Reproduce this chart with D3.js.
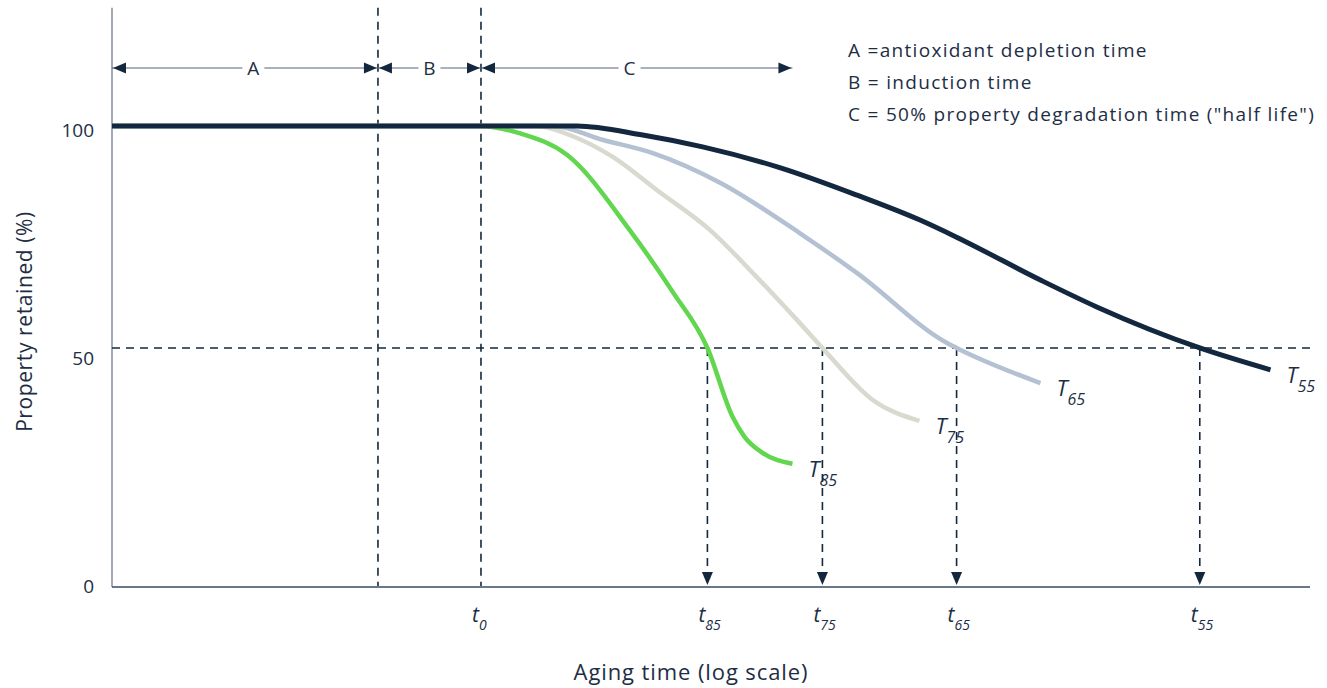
<!DOCTYPE html>
<html>
<head>
<meta charset="utf-8">
<script src="https://cdn.jsdelivr.net/npm/d3@7"></script>
<style>
  body { margin: 0; background: #fff; }
  svg { display: block; }
  text { font-family: "Open Sans", sans-serif; fill: #1d2e44; }
</style>
</head>
<body>
<div id="chart"></div>
<script>
// aging time is in log units (0..10), property in %
const yTicks = [0, 50, 100]
const halfLife = 52.2

const t55X = [0, 3.88, 4.43, 4.93, 5.58, 6.22, 6.74, 7.05, 7.75, 8.22, 9.08, 9.67]
const t55Y = [100.9, 100.9, 98.9, 96.3, 91.7, 85.7, 80.3, 76.5, 67.1, 61.2, 52.2, 47.4]

const t65X = [0, 3.68, 4.10, 4.52, 5.08, 5.74, 6.22, 6.97, 7.05, 7.75]
const t65Y = [100.9, 100.9, 97.8, 94.9, 88.4, 77.4, 68.6, 53.3, 52.2, 44.5]

const t75X = [0, 3.55, 3.82, 4.18, 4.55, 4.99, 5.38, 5.74, 5.93, 6.35, 6.74]
const t75Y = [100.9, 100.9, 98.9, 94.1, 86.8, 78.1, 67.8, 57.7, 52.2, 40.8, 36.2]

const t85X = [0, 3.07, 3.40, 3.80, 4.32, 4.68, 4.97, 5.18, 5.28, 5.43, 5.68]
const t85Y = [100.9, 100.9, 99.3, 94.5, 78.1, 64.5, 52.2, 37.1, 32.7, 29.2, 26.8]

const seriesTemps = ["85", "75", "65", "55"]
const seriesX = [t85X, t75X, t65X, t55X]
const seriesY = [t85Y, t75Y, t65Y, t55Y]
const seriesColors = ["#62d64f", "#d9d9cf", "#b3c1d3", "#13283f"]

const phaseBounds = [0, 2.22, 3.08, 5.68]
const phaseLabels = ["A", "B", "C"]
const phaseLabelAt = [1.18, 2.65, 4.32]
const t0 = 3.08
const dropTimes = [4.97, 5.93, 7.05, 9.08]

const legendLines = [
    "A =antioxidant depletion time",
    "B = induction time",
    "C = 50% property degradation time (\"half life\")"
]

const width = 1327
const height = 688
const dark = "#13283f"

const x = d3.scaleLinear().domain([0, 10]).range([112, 1310])
const y = d3.scaleLinear().domain([0, 100]).range([586, 130])

const svg = d3.select("#chart").append("svg")
    .attr("width", width)
    .attr("height", height)

// axes
svg.append("line")
    .attr("x1", x(0)).attr("x2", x(0))
    .attr("y1", y(126.8)).attr("y2", y(0) + 1)
    .attr("stroke", "#8290a0").attr("stroke-width", 1.5)
svg.append("line")
    .attr("x1", x(0)).attr("x2", x(10))
    .attr("y1", y(0) + 1).attr("y2", y(0) + 1)
    .attr("stroke", "#3b4a5c").attr("stroke-width", 1.5)

svg.selectAll(".ytick").data(yTicks).join("text")
    .attr("class", "ytick")
    .attr("x", 94)
    .attr("y", d => y(d))
    .attr("dy", "0.36em")
    .attr("text-anchor", "end")
    .style("font-size", "19px")
    .text(d => d)

svg.append("text")
    .attr("transform", "translate(32," + y(58) + ") rotate(-90)")
    .attr("text-anchor", "middle")
    .style("font-size", "21px")
    .style("letter-spacing", "0.6px")
    .text("Property retained (%)")

svg.append("text")
    .attr("x", 691)
    .attr("y", 680)
    .attr("text-anchor", "middle")
    .style("font-size", "22px")
    .style("letter-spacing", "0.9px")
    .text("Aging time (log scale)")

// dashed guides
const dash = "8,6"
phaseBounds.slice(1, 3).forEach(b => {
    svg.append("line")
        .attr("x1", x(b)).attr("x2", x(b))
        .attr("y1", y(126.8)).attr("y2", y(0))
        .attr("stroke", dark).attr("stroke-width", 1.6)
        .attr("stroke-dasharray", dash)
})
svg.append("line")
    .attr("x1", x(0)).attr("x2", x(10))
    .attr("y1", y(halfLife)).attr("y2", y(halfLife))
    .attr("stroke", dark).attr("stroke-width", 1.6)
    .attr("stroke-dasharray", dash)

function arrowHead(tx, ty, dir) {
    // tip at (tx,ty); dir: "left", "right", "down"
    const l = 13, w = 5.5
    if (dir === "down") return `M${tx},${ty}L${tx - w},${ty - l}L${tx + w},${ty - l}Z`
    const s = dir === "left" ? 1 : -1
    return `M${tx},${ty}L${tx + s * l},${ty - w}L${tx + s * l},${ty + w}Z`
}

dropTimes.forEach(t => {
    svg.append("line")
        .attr("x1", x(t)).attr("x2", x(t))
        .attr("y1", y(halfLife)).attr("y2", y(0) - 12)
        .attr("stroke", dark).attr("stroke-width", 1.6)
        .attr("stroke-dasharray", dash)
    svg.append("path")
        .attr("d", arrowHead(x(t), y(0) - 1, "down"))
        .attr("fill", dark)
})

// phase arrows A / B / C
const arrowY = 68
phaseLabels.forEach((lab, i) => {
    const x1 = x(phaseBounds[i]), x2 = x(phaseBounds[i + 1])
    svg.append("line")
        .attr("x1", x1).attr("x2", x2)
        .attr("y1", arrowY).attr("y2", arrowY)
        .attr("stroke", "#56657a").attr("stroke-width", 1.2)
    svg.append("path").attr("d", arrowHead(x1 + 1, arrowY, "left")).attr("fill", dark)
    svg.append("path").attr("d", arrowHead(x2 - 1, arrowY, "right")).attr("fill", dark)
    const cx = x(phaseLabelAt[i])
    svg.append("rect")
        .attr("x", cx - 11).attr("y", arrowY - 9)
        .attr("width", 22).attr("height", 18)
        .attr("fill", "#fff")
    svg.append("text")
        .attr("x", cx).attr("y", arrowY)
        .attr("dy", "0.36em")
        .attr("text-anchor", "middle")
        .style("font-size", "19px")
        .text(lab)
})

// legend
svg.selectAll(".legend").data(legendLines).join("text")
    .attr("class", "legend")
    .attr("x", 848)
    .attr("y", (d, i) => 56.5 + i * 32)
    .style("font-size", "19px")
    .style("letter-spacing", "1.3px")
    .text(d => d)

// curves
const line = d3.line()
    .x(d => x(d[0]))
    .y(d => y(d[1]))
    .curve(d3.curveMonotoneX)

seriesTemps.forEach((temp, i) => {
    const pts = seriesX[i].map((v, j) => [v, seriesY[i][j]])
    svg.append("path")
        .attr("d", line(pts))
        .attr("fill", "none")
        .attr("stroke", seriesColors[i])
        .attr("stroke-width", i === 3 ? 5 : 4.5)
        .attr("stroke-linejoin", "round")

    const last = pts[pts.length - 1]
    const lbl = svg.append("text")
        .attr("x", x(last[0]) + 16)
        .attr("y", y(last[1]) + 13)
        .style("font-style", "italic")
    lbl.append("tspan").style("font-size", "22px").text("T")
    lbl.append("tspan").attr("dy", 9).style("font-size", "16px").text(temp)
})

// time labels under the x axis
const tLabels = [{ t: t0, sub: "0" }].concat(dropTimes.map((t, i) => ({ t: t, sub: seriesTemps[i] })))
tLabels.forEach(d => {
    const lbl = svg.append("text")
        .attr("x", x(d.t) - 9)
        .attr("y", 622)
        .style("font-style", "italic")
    lbl.append("tspan").style("font-size", "21px").text("t")
    lbl.append("tspan").attr("dy", 8).style("font-size", "14px").text(d.sub)
})
</script>
</body>
</html>
